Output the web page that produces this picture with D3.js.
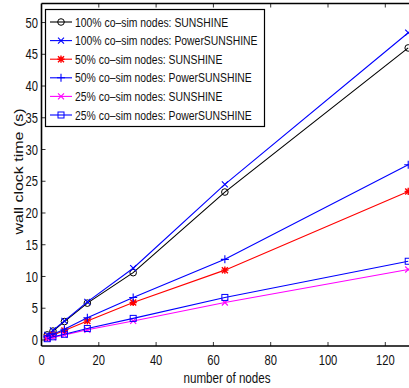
<!DOCTYPE html>
<html>
<head>
<meta charset="utf-8">
<script src="https://cdn.jsdelivr.net/npm/d3@7"></script>
<style>
  body { margin: 0; background: #fff; }
  text { font-family: "Liberation Sans", Arial, sans-serif; fill: #111; }
</style>
</head>
<body>
<svg id="chart" width="409" height="388"></svg>
<script>
const nodes = [2, 4, 8, 16, 32, 64, 128]

const sun100 = [0.8, 1.4, 2.9, 5.8, 10.6, 23.3, 46.0]
const power100 = [0.8, 1.5, 3.0, 6.0, 11.3, 24.5, 48.4]
const sun50 = [0.4, 0.8, 1.5, 3.0, 5.9, 11.0, 23.4]
const power50 = [0.5, 0.9, 1.7, 3.5, 6.7, 12.7, 27.6]
const sun25 = [0.2, 0.4, 0.8, 1.6, 3.0, 5.9, 11.1]
const power25 = [0.2, 0.5, 0.9, 1.8, 3.4, 6.7, 12.4]

const seriesNames = [
    '100% co–sim nodes: SUNSHINE',
    '100% co–sim nodes: PowerSUNSHINE',
    '50% co–sim nodes: SUNSHINE',
    '50% co–sim nodes: PowerSUNSHINE',
    '25% co–sim nodes: SUNSHINE',
    '25% co–sim nodes: PowerSUNSHINE'
]

const xTicks = [0, 20, 40, 60, 80, 100, 120]
const yTicks = [0, 5, 10, 15, 20, 25, 30, 35, 40, 45, 50]

let series = [
    {name: seriesNames[0], values: sun100, color: '#000000', marker: 'circle'},
    {name: seriesNames[1], values: power100, color: '#0000ff', marker: 'x'},
    {name: seriesNames[2], values: sun50, color: '#ff0000', marker: 'star'},
    {name: seriesNames[3], values: power50, color: '#0000ff', marker: 'plus'},
    {name: seriesNames[4], values: sun25, color: '#ff00ff', marker: 'x'},
    {name: seriesNames[5], values: power25, color: '#0000ff', marker: 'square'}
]

// the original picture is squeezed horizontally, so is the text
const squeeze = 0.8

let svg = d3.select('#chart')

let plotLeft = 41.5, plotTop = 3.5, plotBottom = 346
let x = d3.scaleLinear().domain([0, 130]).range([plotLeft, plotLeft + 130 * 2.865])
let y = d3.scaleLinear().domain([-0.95, 53]).range([plotBottom, plotTop])
let plotRight = x(130)

const addText = (g, tx, ty, str, size, anchor, dy) => {
    g.append('text')
        .attr('transform', `translate(${tx},${ty}) scale(${squeeze},1)`)
        .attr('text-anchor', anchor)
        .attr('dy', dy || 0)
        .attr('font-size', size)
        .text(str)
}

// markers
const drawMarker = (g, type, cx, cy, color) => {
    let s = 3
    if (type === 'circle') {
        g.append('circle').attr('cx', cx).attr('cy', cy).attr('r', 3.3)
            .attr('fill', 'none').attr('stroke', color).attr('stroke-width', 1)
    } else if (type === 'square') {
        g.append('rect').attr('x', cx - 3).attr('y', cy - 3).attr('width', 6).attr('height', 6)
            .attr('fill', 'none').attr('stroke', color).attr('stroke-width', 1)
    } else {
        let p = d3.path()
        if (type === 'x' || type === 'star') {
            p.moveTo(cx - s, cy - s); p.lineTo(cx + s, cy + s)
            p.moveTo(cx - s, cy + s); p.lineTo(cx + s, cy - s)
        }
        if (type === 'plus' || type === 'star') {
            let t = type === 'star' ? 3.6 : 4
            p.moveTo(cx - t, cy); p.lineTo(cx + t, cy)
            p.moveTo(cx, cy - t); p.lineTo(cx, cy + t)
        }
        g.append('path').attr('d', p.toString()).attr('fill', 'none')
            .attr('stroke', color).attr('stroke-width', type === 'star' ? 1.4 : 1.1)
    }
}

let plot = svg.append('g')
let line = d3.line().x((d, i) => x(nodes[i])).y(d => y(d))

for (let s of series) {
    plot.append('path').datum(s.values).attr('d', line)
        .attr('fill', 'none').attr('stroke', s.color).attr('stroke-width', 1.1)
    s.values.forEach((v, i) => drawMarker(plot, s.marker, x(nodes[i]), y(v), s.color))
}

// axes box
svg.append('line').attr('x1', plotLeft).attr('x2', plotLeft).attr('y1', plotTop).attr('y2', plotBottom)
    .attr('stroke', '#000').attr('stroke-width', 1.6)
svg.append('line').attr('x1', plotLeft).attr('x2', plotRight).attr('y1', plotTop).attr('y2', plotTop)
    .attr('stroke', '#000').attr('stroke-width', 1.6)
svg.append('line').attr('x1', plotLeft).attr('x2', plotRight).attr('y1', plotBottom).attr('y2', plotBottom)
    .attr('stroke', '#000').attr('stroke-width', 1.6)

// x ticks
let xAxis = svg.append('g')
xTicks.forEach(t => {
    if (t > 0) {
        xAxis.append('line').attr('x1', x(t)).attr('x2', x(t)).attr('y1', plotBottom).attr('y2', plotBottom - 4)
            .attr('stroke', '#000').attr('stroke-width', 0.8)
        xAxis.append('line').attr('x1', x(t)).attr('x2', x(t)).attr('y1', plotTop).attr('y2', plotTop + 4)
            .attr('stroke', '#000').attr('stroke-width', 0.8)
    }
    addText(xAxis, x(t), 365, t, 14, 'middle')
})

// y ticks
let yAxis = svg.append('g')
yTicks.forEach(t => {
    yAxis.append('line').attr('x1', plotLeft).attr('x2', plotLeft + 4).attr('y1', y(t)).attr('y2', y(t))
        .attr('stroke', '#000').attr('stroke-width', 0.8)
    addText(yAxis, 38, y(t), t, 14, 'end', '0.36em')
})

addText(svg, 227, 382.5, 'number of nodes', 14.5, 'middle')

svg.append('text')
    .attr('transform', `translate(22.5,171.5) scale(${squeeze},1) rotate(-90)`)
    .attr('text-anchor', 'middle')
    .attr('font-size', 16)
    .text('wall clock time (s)')

// legend
let legend = svg.append('g')
legend.append('rect').attr('x', 45.5).attr('y', 9.5).attr('width', 219).attr('height', 117)
    .attr('fill', '#fff').attr('stroke', '#000').attr('stroke-width', 1.2)

series.forEach((s, i) => {
    let ly = 22 + i * 18.6
    legend.append('line').attr('x1', 50).attr('x2', 72).attr('y1', ly).attr('y2', ly)
        .attr('stroke', s.color).attr('stroke-width', 1.1)
    drawMarker(legend, s.marker, 61, ly, s.color)
    addText(legend, 75, ly, s.name, 13, 'start', '0.36em')
})
</script>
</body>
</html>
